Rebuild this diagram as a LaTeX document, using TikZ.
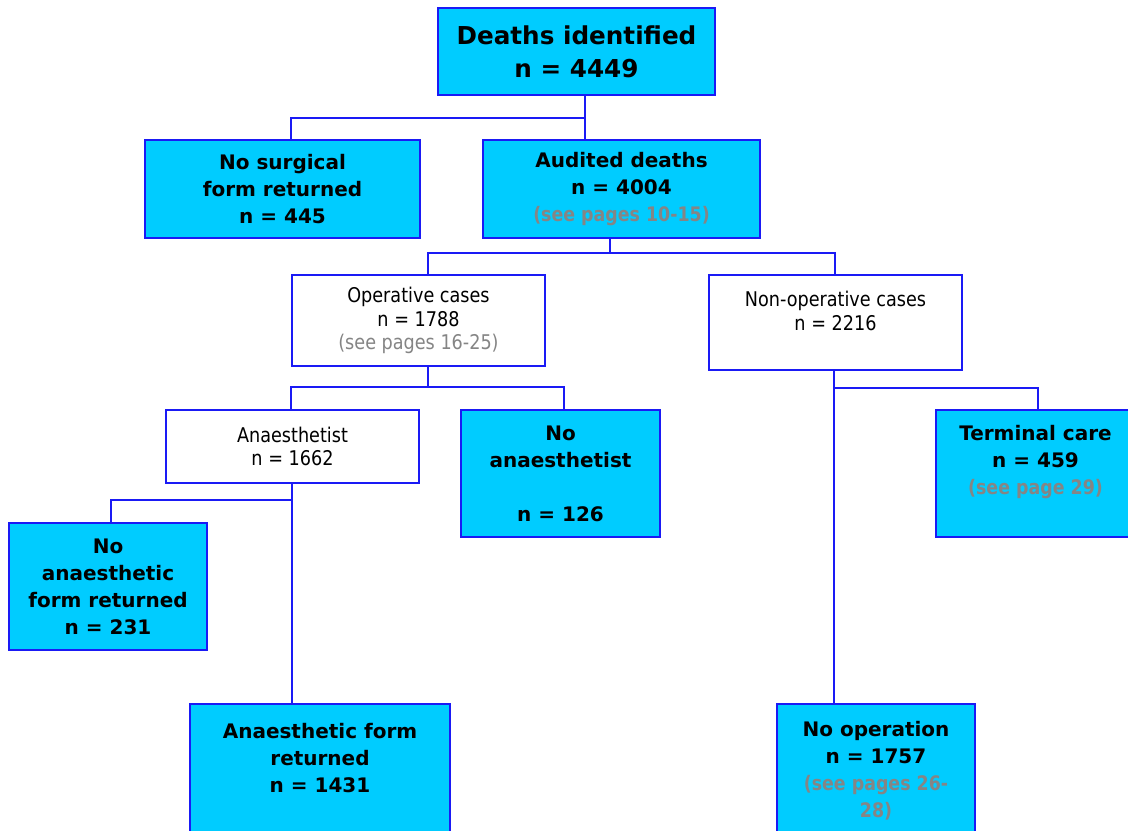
\documentclass[tikz,border=0pt]{standalone}
\usepackage{fontspec}
\setmainfont{DejaVu Sans}
\newfontfamily\thinfont[FakeStretch=0.87]{DejaVu Sans}
\usetikzlibrary{calc, positioning}
\definecolor{fcyan}{HTML}{00CCFF}
\definecolor{fblue}{HTML}{1A1AF5}
\definecolor{fgrey}{HTML}{858585}
\tikzset{
  cbox/.style={draw=fblue, fill=fcyan, line width=1.4pt, align=center,
               font=\fontsize{15}{20.25}\selectfont\bfseries, inner sep=0pt},
  wbox/.style={draw=fblue, fill=white, line width=1.4pt, align=center,
               font=\thinfont\fontsize{15.2}{17.6}\selectfont, inner sep=0pt},
  wh/.style 2 args={minimum width=#1*0.75pt, minimum height=#2*0.75pt},
  link/.style={fblue, line width=1.4pt},
}
\newcommand{\pg}[1]{{\thinfont\color{fgrey}#1}}

\begin{document}
\begin{tikzpicture}[x=0.75pt, y=-0.75pt]
  \useasboundingbox (0,0) rectangle (1128,831);

  % boxes
  \node[cbox, wh={277}{87}, font=\fontsize{18.5}{24.75}\selectfont\bfseries]
    (top) at (576.5,51.5) {Deaths identified\\n = 4449};
  \node[cbox, wh={275}{98}] (nosurg) at (282.5,189)
    {No surgical\\form returned\\n = 445};
  \node[cbox, wh={277}{98}] (audit) at (621.5,189)
    {Audited deaths\\n = 4004\\\pg{(see pages 10-15)}};
  \node[wbox, wh={253}{91}] (oper) at (418.5,320.5)
    {Operative cases\\n = 1788\\\pg{(see pages 16-25)}};
  \node[wbox, wh={253}{95}] (nonop) at (835.5,322.5)
    {Non-operative cases\\n = 2216\\\mbox{}};
  \node[wbox, wh={253}{73}] (anaes) at (292.5,446.5)
    {Anaesthetist\\n = 1662};
  \node[cbox, wh={199}{127}] (noanaes) at (560.5,473.5)
    {No\\anaesthetist\\\mbox{}\\n = 126};
  \node[cbox, wh={199}{127}] (term) at (1035.5,473.5)
    {Terminal care\\n = 459\\\pg{(see page 29)}\\\mbox{}};
  \node[cbox, wh={198}{127}] (noform) at (108,586.5)
    {No\\anaesthetic\\form returned\\n = 231};
  \node[cbox, wh={260}{134}] (formret) at (320,771)
    {Anaesthetic form\\returned\\n = 1431\\\mbox{}};
  \node[cbox, wh={198}{134}] (noop) at (876,771)
    {No operation\\n = 1757\\\pg{(see pages 26-}\\\pg{28)}};

  % junctions
  \coordinate (j1) at (585,118);
  \coordinate (j1l) at (291,118);
  \coordinate (j2) at (610,253);
  \coordinate (j2l) at (428,253);
  \coordinate (j2r) at (835,253);
  \coordinate (j3) at (428,387);
  \coordinate (j3l) at (291,387);
  \coordinate (j3r) at (564,387);
  \coordinate (j4) at (834,388);
  \coordinate (j4r) at (1038,388);
  \coordinate (j5) at (292,500);
  \coordinate (j5l) at (111,500);

  % connectors
  \draw[link] (top.south -| j1) -- (j1) -- (j1 |- audit.north);
  \draw[link] (j1) -- (j1l) -- (j1l |- nosurg.north);
  \draw[link] (audit.south -| j2) -- (j2);
  \draw[link] (j2l |- oper.north) -- (j2l) -- (j2r) -- (j2r |- nonop.north);
  \draw[link] (oper.south -| j3) -- (j3);
  \draw[link] (j3l |- anaes.north) -- (j3l) -- (j3r) -- (j3r |- noanaes.north);
  \draw[link] (nonop.south -| j4) -- (j4 |- noop.north);
  \draw[link] (j4) -- (j4r) -- (j4r |- term.north);
  \draw[link] (anaes.south -| j5) -- (j5 |- formret.north);
  \draw[link] (j5) -- (j5l) -- (j5l |- noform.north);
\end{tikzpicture}
\end{document}
